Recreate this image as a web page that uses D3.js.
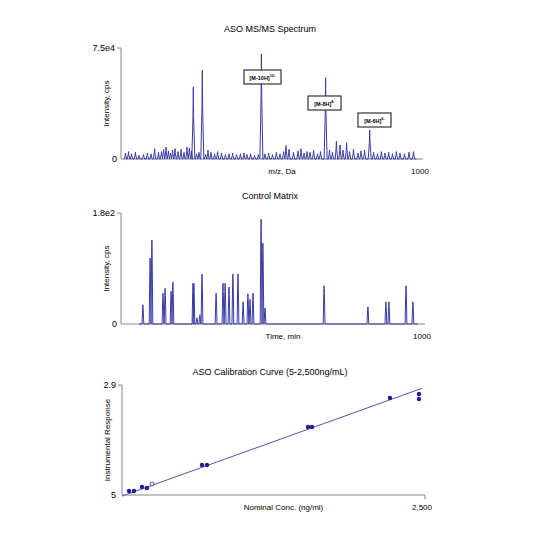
<!DOCTYPE html>
<html><head><meta charset="utf-8">
<script src="https://cdn.jsdelivr.net/npm/d3@7"></script>
<style>body{margin:0;background:#fff}text{font-family:"Liberation Sans",Arial,sans-serif}</style>
</head><body>
<script>
// Panel 1: MS/MS spectrum peaks (m/z, intensity)
const specMz = [15,25,35,48,60,75,88,100,112,125,135,142,150,158,165,172,180,190,200,210,220,228,235,241,252,260,271,282,290,300,312,322,335,348,360,372,385,398,410,420,432,445,458,468,480,492,505,518,530,542,550,560,575,590,600,610,620,630,642,655,665,682,695,705,718,730,740,752,762,775,790,800,812,829,842,855,868,880,892,905,918,930,945,960,975];
const specInt = [4000,5000,3500,4500,2500,3000,4000,3500,7000,4500,5000,6500,8000,5500,4000,6000,7000,5000,6500,4500,8000,7500,5500,48600,3500,4500,60000,3000,6000,4500,3500,5000,4000,3000,3500,4000,3000,3500,4000,3000,3500,2500,3000,71000,3500,4000,3000,4500,3500,5000,9000,6500,4500,5500,7000,4000,5000,4500,6000,3500,5000,55000,6000,4500,12000,9500,6000,11000,5000,6500,4000,5500,6000,19600,4500,3500,5000,4000,4500,3500,5000,4000,3500,4500,5000];
const specLabels = [{t:"[M-10H]",s:"10-"},{t:"[M-8H]",s:"8-"},{t:"[M-6H]",s:"6-"}];
// Panel 2: control matrix peaks (time, intensity)
const ctlT = [73,97,103,140,147,167,173,240,243,253,263,270,317,340,347,360,373,390,407,423,430,440,467,473,480,677,823,883,893,950,973];
const ctlI = [31,107,136,50,58,53,68,66,66,10,15,81,50,66,66,60,81,81,36,49,40,50,170,131,26,62,28,36,36,62,36];
// Panel 3: calibration
const calX = [58,99,165,206,660,701,1535,1568,2211,2450,2450];
const calY = [0.036,0.036,0.073,0.064,0.273,0.273,0.618,0.618,0.882,0.918,0.873];
const calOpen = {x:248,y:0.10};
const calLine = [[0,-0.01],[2475,0.97]];

const svg=d3.select("body").append("svg").attr("width",550).attr("height",550);
const blue="#3a3aa8", dark="#1f1f9a", axc="#888";

function panel(title,ty,x0,x1,y0,y1,ytop,xlab,xend,ylab){
  svg.append("text").attr("x",270).attr("y",ty).attr("text-anchor","middle").attr("font-size",9).text(title);
  svg.append("line").attr("x1",x0).attr("x2",x0).attr("y1",y1).attr("y2",y0).attr("stroke",axc);
  svg.append("line").attr("x1",x0).attr("x2",x1).attr("y1",y0).attr("y2",y0).attr("stroke",axc);
  svg.append("line").attr("x1",x0-4).attr("x2",x0).attr("y1",y1).attr("y2",y1).attr("stroke",axc);
  svg.append("text").attr("x",x0-6).attr("y",y1+3).attr("text-anchor","end").attr("font-size",9).text(ytop);
  svg.append("text").attr("x",(x0+x1)/2+10).attr("y",y0+15).attr("text-anchor","middle").attr("font-size",8).text(xlab);
  svg.append("text").attr("x",x1-3).attr("y",y0+15).attr("text-anchor","middle").attr("font-size",8).text(xend);
  svg.append("text").attr("transform",`translate(${x0-12},${(y0+y1)/2}) rotate(-90)`).attr("text-anchor","middle").attr("font-size",8).text(ylab);
}
// Panel 1
panel("ASO MS/MS Spectrum",32,121,423,159,48,"7.5e4","m/z, Da","1000","Intensity, cps");
svg.append("text").attr("x",117).attr("y",162).attr("text-anchor","end").attr("font-size",9).text("0");
const x1=d3.scaleLinear().domain([0,1000]).range([121,421]);
const y1=d3.scaleLinear().domain([0,75000]).range([159,48]);
const p1=[[10,0]];
specMz.forEach((m,i)=>{const w=specInt[i]>15000?5:4;p1.push([m-w,0],[m-1,specInt[i]*0.6],[m,specInt[i]],[m+1,specInt[i]*0.6],[m+w,0]);});
p1.push([985,0]);
svg.append("path").attr("d",d3.line().x(d=>x1(d[0])).y(d=>y1(d[1]))(p1)).attr("fill","none").attr("stroke",blue).attr("stroke-width",1);
const boxes=[[244,70,37,14],[308,96,33,14],[358,113,33,14]];
specLabels.forEach((l,i)=>{
  const b=boxes[i];
  svg.append("rect").attr("x",b[0]).attr("y",b[1]).attr("width",b[2]).attr("height",b[3]).attr("fill","#fff").attr("stroke","#333").attr("stroke-width",1.2);
  const t=svg.append("text").attr("x",b[0]+b[2]/2).attr("y",b[1]+9.5).attr("text-anchor","middle").attr("font-size",5.5).attr("font-weight","bold");
  t.append("tspan").text(l.t);
  t.append("tspan").attr("dy",-3).attr("font-size",4).text(l.s);
});
// Panel 2
panel("Control Matrix",199,121,425,324,213,"1.8e2","Time, min","1000","Intensity, cps");
svg.append("text").attr("x",117).attr("y",327).attr("text-anchor","end").attr("font-size",9).text("0");
const x2=d3.scaleLinear().domain([0,1000]).range([121,421]);
const y2=d3.scaleLinear().domain([0,180]).range([324,213]);
const p2=[];
ctlT.forEach((t,i)=>p2.push([t-3,0],[t-1,ctlI[i]*0.8],[t,ctlI[i]],[t+1,ctlI[i]*0.8],[t+3,0]));
svg.append("path").attr("d",d3.line().x(d=>x2(d[0])).y(d=>y2(d[1]))([[60,0],...p2,[990,0]])).attr("fill","none").attr("stroke",blue);
// Panel 3
panel("ASO Calibration Curve (5-2,500ng/mL)",375,122,425,495,385,"2.9","Nominal Conc. (ng/ml)","2,500","Instrumental Response");
svg.append("text").attr("x",116).attr("y",498).attr("text-anchor","end").attr("font-size",9).text("5");
svg.append("line").attr("x1",425).attr("x2",425).attr("y1",495).attr("y2",499).attr("stroke",axc);
const x3=d3.scaleLinear().domain([0,2500]).range([122,425]);
const y3=d3.scaleLinear().domain([0,1]).range([495,385]);
svg.append("line").attr("x1",x3(calLine[0][0])).attr("y1",y3(calLine[0][1])).attr("x2",x3(calLine[1][0])).attr("y2",y3(calLine[1][1])).attr("stroke","#5555aa").attr("stroke-width",1);
svg.selectAll(".pt").data(calX).enter().append("circle").attr("cx",d=>x3(d)).attr("cy",(d,i)=>y3(calY[i])).attr("r",2.2).attr("fill",dark);
svg.append("circle").attr("cx",x3(calOpen.x)).attr("cy",y3(calOpen.y)).attr("r",2).attr("fill","#fff").attr("stroke",dark).attr("stroke-width",0.8);
</script></body></html>
